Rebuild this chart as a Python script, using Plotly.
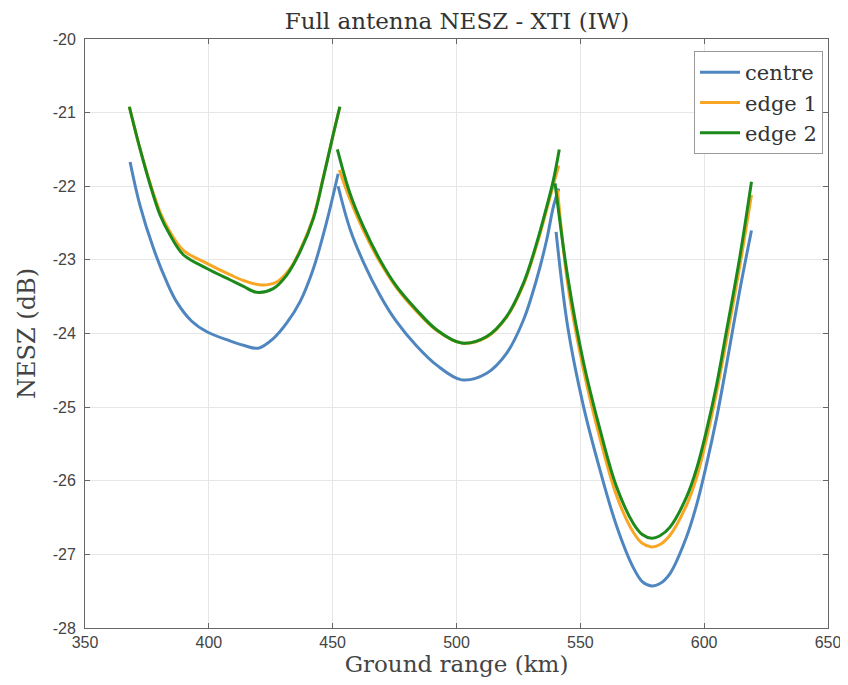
import plotly.graph_objects as go

# ---- data ----
# each series: three swaths separated by None
centre_x = [368.2, 372.2, 377.6, 383, 387, 393, 399.4, 408.5, 414, 420, 426, 431.4, 436.8, 442.2, 447.6, 452.2,
            None,
            452.2, 457, 462.4, 469.1, 475.8, 483.9, 492, 502.1, 512.2, 520.2, 527, 532.3, 536.4, 539.1, 541.3,
            None,
            540.2, 545, 551.2, 557.9, 564.6, 571.4, 575, 578.8, 582, 586.2, 592.9, 597, 601, 605, 609.1, 614.4, 619.1]
centre_y = [-21.67, -22.26, -22.84, -23.3, -23.57, -23.83, -23.98, -24.1, -24.16, -24.2, -24.07, -23.86, -23.57, -23.12, -22.48, -21.83,
            None,
            -22.0, -22.58, -23.03, -23.48, -23.84, -24.17, -24.43, -24.63, -24.54, -24.27, -23.82, -23.27, -22.73, -22.28, -22.03,
            None,
            -22.62, -23.93, -24.98, -25.85, -26.61, -27.18, -27.37, -27.43, -27.4, -27.26, -26.76, -26.32, -25.77, -25.15, -24.41, -23.41, -22.6]

edge1_x = [367.9, 372.2, 376.2, 380.3, 384.3, 389.7, 399.4, 408.5, 414, 421, 427.4, 432.8, 436.8, 442.2, 446.2, 450.2, 452.9,
           None,
           452.7, 457, 462.4, 469.1, 475.8, 483.9, 492, 502.1, 512.2, 520.2, 527, 532.3, 536.4, 539.1, 541.3,
           None,
           540.8, 545, 551.2, 557.9, 564.6, 571.4, 575, 578.8, 582, 586.2, 592.9, 597, 601, 605, 609.1, 614.4, 619.1]
edge1_y = [-20.92, -21.49, -21.95, -22.35, -22.62, -22.87, -23.05, -23.2, -23.28, -23.34, -23.3, -23.12, -22.87, -22.42, -21.88, -21.3, -20.92,
           None,
           -21.78, -22.18, -22.6, -23.03, -23.38, -23.7, -23.96, -24.13, -24.05, -23.78, -23.34, -22.81, -22.32, -21.98, -21.72,
           None,
           -22.05, -23.35, -24.48, -25.42, -26.2, -26.7, -26.85, -26.9, -26.87, -26.74, -26.33, -25.95, -25.42, -24.8, -24.07, -23.08, -22.12]

edge2_x = [367.9, 372.2, 376.2, 380.3, 384.3, 389.7, 399.4, 408.5, 414, 419.3, 426, 431.4, 436.8, 442.2, 446.2, 450.2, 452.9,
           None,
           451.9, 457, 462.4, 469.1, 475.8, 483.9, 492, 502.1, 512.2, 520.2, 527, 532.3, 536.4, 539.1, 541.5,
           None,
           539.8, 545, 551.2, 557.9, 564.6, 571.4, 575, 578.8, 582, 586.2, 592.9, 597, 601, 605, 609.1, 614.4, 619.1]
edge2_y = [-20.92, -21.49, -21.97, -22.39, -22.66, -22.93, -23.12, -23.27, -23.36, -23.44, -23.39, -23.21, -22.89, -22.44, -21.89, -21.3, -20.92,
           None,
           -21.5, -22.1, -22.55, -23.0, -23.36, -23.68, -23.95, -24.13, -24.04, -23.77, -23.32, -22.78, -22.28, -21.92, -21.5,
           None,
           -21.96, -23.25, -24.38, -25.3, -26.08, -26.58, -26.73, -26.78, -26.75, -26.63, -26.22, -25.83, -25.31, -24.7, -23.95, -22.96, -21.94]

series_names = ["centre", "edge 1", "edge 2"]
series_colors = ["#4f86c0", "#f8a623", "#1b8a1b"]

x_ticks = [350, 400, 450, 500, 550, 600, 650]
y_ticks = [-20, -21, -22, -23, -24, -25, -26, -27, -28]

serif = "DejaVu Serif"
sans = "Liberation Sans"

fig = go.Figure()
for name, xs, ys, col in zip(series_names,
                             [centre_x, edge1_x, edge2_x],
                             [centre_y, edge1_y, edge2_y],
                             series_colors):
    fig.add_trace(go.Scatter(x=xs, y=ys, name=name, mode="lines",
                             connectgaps=False,
                             line=dict(color=col, width=3, shape="spline", smoothing=1.0)))

axis_common = dict(showline=True, linecolor="#666666", linewidth=1, mirror="ticks",
                   ticks="inside", ticklen=5, tickcolor="#666666",
                   showgrid=True, gridcolor="#e6e6e6", gridwidth=1, zeroline=False,
                   automargin=False,
                   tickfont=dict(family=sans, size=16, color="#444444"))

# page has an 8px body margin, so the figure is 840x677 inside the 848x685 window
fig.update_layout(
    width=840, height=677,
    paper_bgcolor="white", plot_bgcolor="white",
    margin=dict(l=77, r=20, t=31, b=57),
    title=dict(text="Full antenna NESZ - XTI (IW)", x=449 / 840, xanchor="center",
               y=1 - 13 / 677, yanchor="middle",
               font=dict(family=serif, size=23, color="#333333")),
    xaxis=dict(range=[350, 650], tickvals=x_ticks, ticktext=[str(v) for v in x_ticks],
               title=dict(text="Ground range (km)", font=dict(family=serif, size=23, color="#444444"), standoff=4),
               **axis_common),
    yaxis=dict(range=[-28, -20], tickvals=y_ticks, ticktext=[str(v) for v in y_ticks],
               ticklabelstandoff=5,
               title=dict(text="NESZ (dB)", font=dict(family=serif, size=24, color="#444444"), standoff=10),
               **axis_common),
    legend=dict(x=0.9933, y=0.9796, xanchor="right", yanchor="top",
                bgcolor="white", bordercolor="#999999", borderwidth=1,
                font=dict(family=serif, size=21, color="#333333"),
                tracegroupgap=0, itemwidth=40),
    showlegend=True,
)

fig.write_html("out.html")
